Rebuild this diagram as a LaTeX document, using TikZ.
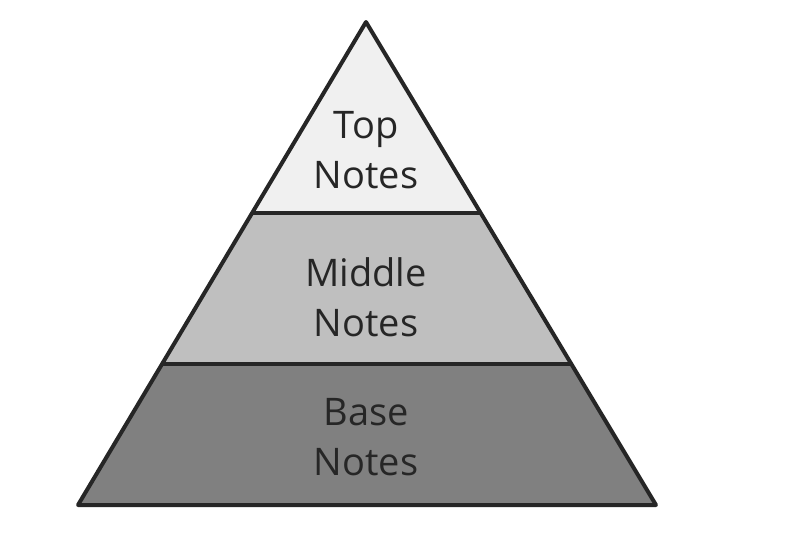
\documentclass[tikz,border=0pt]{standalone}
\usepackage{fontspec}
\setmainfont{Open Sans}
\begin{document}
\begin{tikzpicture}[x=1pt,y=-1pt,
  band/.style={draw=black!85,line width=4pt,line join=round},
  lbl/.style={align=center,font=\fontsize{38}{50}\selectfont,text=black!85}]
\useasboundingbox (0,0) rectangle (800,533);
\coordinate (A) at (366,22);
\coordinate (L1) at (252,213); \coordinate (R1) at (480,213);
\coordinate (L2) at (162,364); \coordinate (R2) at (570,364);
\coordinate (BL) at (78,505); \coordinate (BR) at (656,505);
\fill[black!6] (A) -- (L1) -- (R1) -- cycle;
\fill[black!25] (L1) -- (L2) -- (R2) -- (R1) -- cycle;
\fill[black!50] (L2) -- (BL) -- (BR) -- (R2) -- cycle;
\draw[band] (A) -- (BL) -- (BR) -- cycle;
\draw[band] (L1) -- (R1);
\draw[band] (L2) -- (R2);
\node[lbl] (t) at (366,150) {Top\\Notes};
\node[lbl] (m) at (366,297) {Middle\\Notes};
\node[lbl] (b) at (366,437) {Base\\Notes};
\end{tikzpicture}
\end{document}
